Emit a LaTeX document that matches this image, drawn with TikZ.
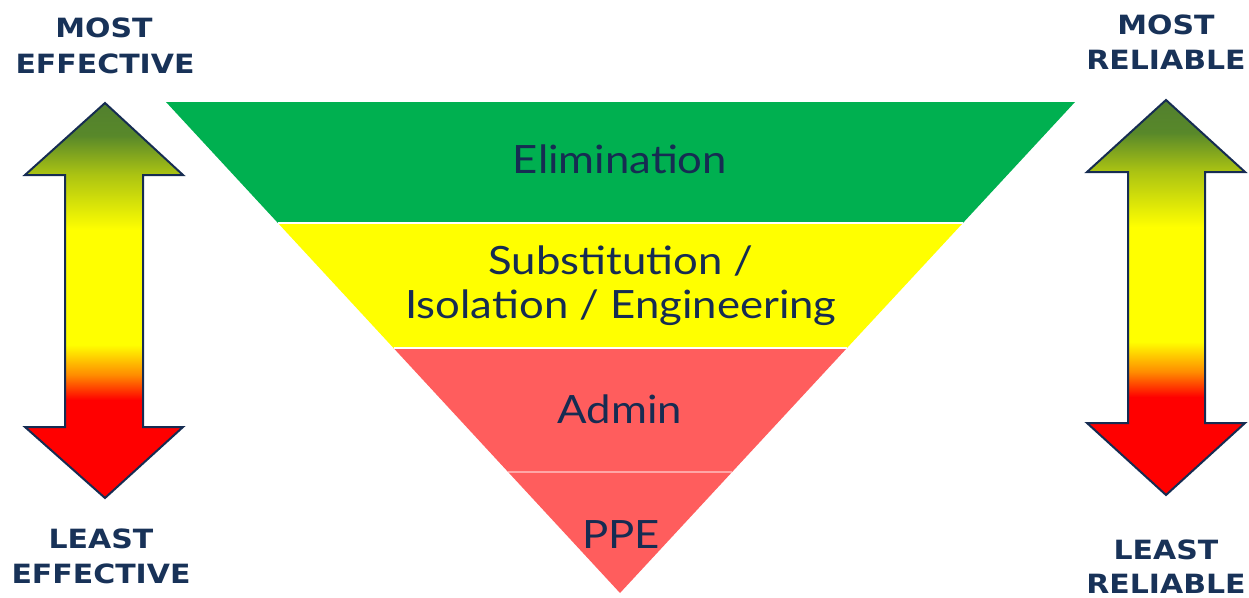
\documentclass[tikz,border=0pt]{standalone}
\usepackage{fontspec}
\setmainfont{Lato}[FakeStretch=1.12]
\newfontfamily\lblfont{DejaVu Sans}[FakeStretch=1.13]
\definecolor{navy}{RGB}{22,44,82}
\definecolor{lblnavy}{RGB}{24,50,88}
\definecolor{elimgreen}{RGB}{0,176,80}
\definecolor{subyellow}{RGB}{255,255,0}
\definecolor{admred}{RGB}{255,93,93}
\definecolor{rd}{RGB}{255,0,0}
\definecolor{orng}{RGB}{255,140,0}
\definecolor{yl}{RGB}{255,255,0}
\definecolor{yg}{RGB}{172,196,18}
\definecolor{dg}{RGB}{88,136,42}
\definecolor{dgtop}{RGB}{82,128,46}
\pgfdeclareverticalshading{arrowshade}{100bp}{color(0bp)=(rd); color(37.4bp)=(rd); color(40.6bp)=(orng); color(44.4bp)=(yl); color(58.9bp)=(yl); color(65.9bp)=(yg); color(70.9bp)=(dg); color(75bp)=(dgtop); color(100bp)=(dgtop)}
\tikzset{
  bandtext/.style={text=navy, inner sep=0pt, anchor=base, font=\fontsize{39}{44}\selectfont},
  lbl/.style={text=lblnavy, inner sep=0pt, anchor=base, font=\lblfont\bfseries\fontsize{26.5}{32}\selectfont},
  dblarrow/.style={shading=arrowshade, draw=navy, line width=2pt, line join=miter}
}
\begin{document}
\begin{tikzpicture}[x=1pt,y=-1pt]
\useasboundingbox (0,0) rectangle (1249,597);
% triangle bands
\fill[elimgreen] (166,102) -- (1075,102) -- (962.9,223) -- (277.9,223) -- cycle;
\fill[subyellow] (277.9,223) -- (962.9,223) -- (847,348) -- (393.5,348) -- cycle;
\fill[admred] (393.5,348) -- (847,348) -- (732.1,472) -- (508.1,472) -- cycle;
\fill[admred] (508.1,472) -- (732.1,472) -- (620,593) -- cycle;
\draw[white, line width=1.5pt] (277.9,223) -- (962.9,223);
\draw[white, line width=1.5pt] (393.5,348) -- (847,348);
\draw[white, opacity=0.45, line width=1.5pt] (508.1,472) -- (732.1,472);
% band texts
\node[bandtext] (elim) at (620,173) {Elimination};
\node[bandtext] (subst) at (621,274) {Substitution /};
\node[bandtext] (isol) at (621,318) {Isolation / Engineering};
\node[bandtext] (admin) at (620,423) {Admin};
\node[bandtext] (ppe) at (621,548) {PPE};
% left arrow
\path[dblarrow] (105,103) -- (183,175) -- (143,175) -- (143,427) -- (183,427) -- (105,498) -- (25,427) -- (65,427) -- (65,175) -- (25,175) -- cycle;
% right arrow
\path[dblarrow] (1166,100) -- (1245,172) -- (1205,172) -- (1205,423) -- (1245,423) -- (1166,495) -- (1087,423) -- (1128,423) -- (1128,172) -- (1087,172) -- cycle;
% labels
\node[lbl] (me1) at (104,37) {MOST};
\node[lbl] (me2) at (105,73) {EFFECTIVE};
\node[lbl] (le1) at (101,548) {LEAST};
\node[lbl] (le2) at (101,583) {EFFECTIVE};
\node[lbl] (mr1) at (1166,34) {MOST};
\node[lbl] (mr2) at (1166,69) {RELIABLE};
\node[lbl] (lr1) at (1166,559) {LEAST};
\node[lbl] (lr2) at (1166,593) {RELIABLE};
\end{tikzpicture}
\end{document}
